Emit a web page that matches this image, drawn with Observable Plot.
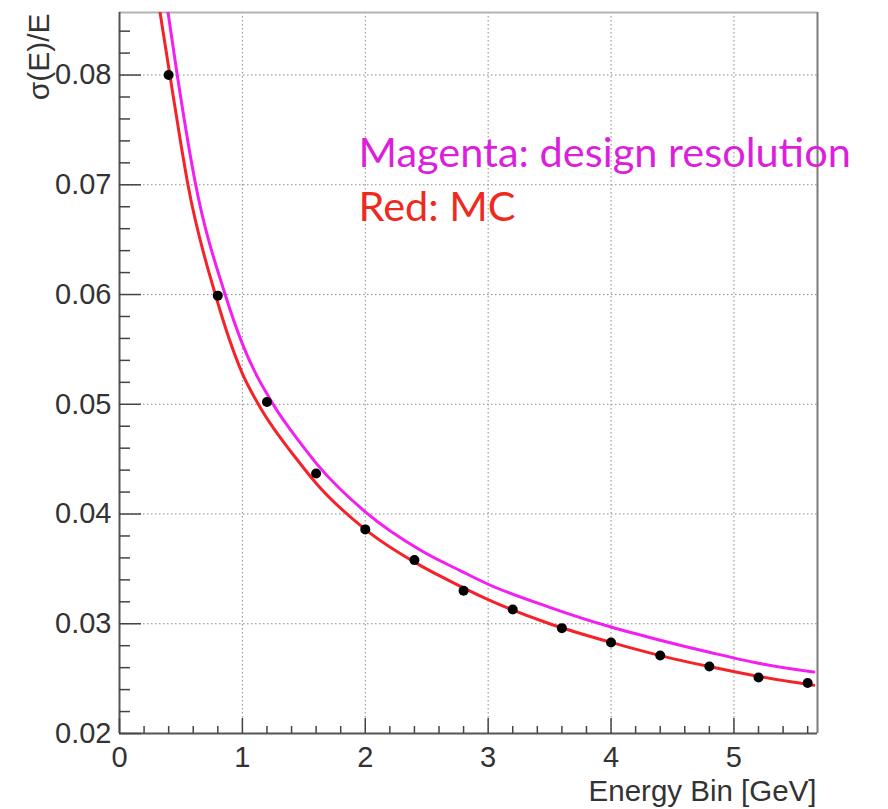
<!DOCTYPE html>
<html>
<head>
<meta charset="utf-8">
<script src="https://cdn.jsdelivr.net/npm/d3@7"></script>
<script src="https://cdn.jsdelivr.net/npm/@observablehq/plot@0.6"></script>
<style>
  html, body { margin: 0; padding: 0; background: #fff; }
  svg { overflow: visible; }
</style>
</head>
<body>
<div id="chart"></div>
<script>
// ---- data ----
const energyBins = [0.4, 0.8, 1.2, 1.6, 2.0, 2.4, 2.8, 3.2, 3.6, 4.0, 4.4, 4.8, 5.2, 5.6];
const measuredRes = [0.0800, 0.0599, 0.0502, 0.0437, 0.0386, 0.0358, 0.0330, 0.0313, 0.0296, 0.0283, 0.0271, 0.0261, 0.0251, 0.0246];

const mcCurveE   = [0.33, 0.41, 0.50, 0.557, 0.78, 1.00, 1.13, 1.47, 1.60, 2.00, 2.45, 2.67, 3.00, 3.50, 4.00, 4.40, 4.80, 5.20, 5.65];
const mcCurveRes = [0.0857, 0.0800, 0.0737, 0.0700, 0.0600, 0.0528, 0.0500, 0.0446, 0.0428, 0.0386, 0.0353, 0.0340, 0.0322, 0.0300, 0.0283, 0.0271, 0.0261, 0.0252, 0.0244];

const designCurveE   = [0.395, 0.47, 0.62, 0.86, 1.00, 1.25, 1.47, 1.61, 2.00, 2.45, 2.78, 3.00, 3.50, 4.00, 4.40, 4.80, 5.20, 5.65];
const designCurveRes = [0.0857, 0.0800, 0.0700, 0.0600, 0.0555, 0.0500, 0.0465, 0.0445, 0.0402, 0.0367, 0.0348, 0.0336, 0.0315, 0.0297, 0.0285, 0.0274, 0.0264, 0.0256];

const xMajorTicks = [0, 1, 2, 3, 4, 5];
const xMinorTicks = [0.2, 0.4, 0.6, 0.8, 1.2, 1.4, 1.6, 1.8, 2.2, 2.4, 2.6, 2.8, 3.2, 3.4, 3.6, 3.8, 4.2, 4.4, 4.6, 4.8, 5.2, 5.4, 5.6];
const yMajorTicks = [0.02, 0.03, 0.04, 0.05, 0.06, 0.07, 0.08];
const yMinorTicks = [0.022, 0.024, 0.026, 0.028, 0.032, 0.034, 0.036, 0.038, 0.042, 0.044, 0.046, 0.048,
                     0.052, 0.054, 0.056, 0.058, 0.062, 0.064, 0.066, 0.068, 0.072, 0.074, 0.076, 0.078, 0.082, 0.084];

const xLabel = "Energy Bin [GeV]";
const yLabel = "σ(E)/E";
const legendTexts = ["Magenta: design resolution", "Red: MC"];

// ---- build tables ----
const points = energyBins.map((e, i) => ({e, r: measuredRes[i]}));
const mcCurve = mcCurveE.map((e, i) => ({e, r: mcCurveRes[i]}));
const designCurve = designCurveE.map((e, i) => ({e, r: designCurveRes[i]}));

const xMax = 5.68, yMin = 0.02, yMax = 0.0857;
const annotations = [
  {text: legendTexts[0], e: 1.945, r: 0.0716, color: "#dc1fdc"},
  {text: legendTexts[1], e: 1.945, r: 0.0667, color: "#ee2a1e"}
];

const gridStyle = {stroke: "#8a8a8a", strokeOpacity: 1, strokeDasharray: "1.5,2.5", strokeWidth: 1};

const chart = Plot.plot({
  width: 888,
  height: 809,
  marginLeft: 119,
  marginRight: 71,
  marginTop: 12,
  marginBottom: 76,
  x: {domain: [0, xMax]},
  y: {domain: [yMin, yMax]},
  style: {fontFamily: "'Liberation Sans', Arial, Helvetica, sans-serif", fontSize: "29px", color: "#333", background: "#fff"},
  marks: [
    Plot.gridX(xMajorTicks, gridStyle),
    Plot.gridY(yMajorTicks, gridStyle),
    // frame
    Plot.ruleY([yMax], {stroke: "#b4b4b4", strokeWidth: 2}),
    Plot.ruleX([xMax], {stroke: "#7a7a7a", strokeWidth: 2}),
    Plot.ruleX([0], {stroke: "#555", strokeWidth: 2}),
    Plot.ruleY([yMin], {stroke: "#555", strokeWidth: 2}),
    // axes (inward ticks, ROOT style)
    Plot.axisX(xMajorTicks, {tickSize: -15, tickPadding: 28, tickFormat: d => String(d), label: null, stroke: "#444", strokeWidth: 1.5}),
    Plot.axisX(xMinorTicks, {tickSize: -7, tickPadding: 0, tickFormat: () => "", label: null, stroke: "#444", strokeWidth: 1.5}),
    Plot.axisY(yMajorTicks, {tickSize: -22, tickPadding: 30, tickFormat: d3.format(".2f"), label: null, stroke: "#444", strokeWidth: 1.5}),
    Plot.axisY(yMinorTicks, {tickSize: -11, tickPadding: 0, tickFormat: () => "", label: null, stroke: "#444", strokeWidth: 1.5}),
    // curves
    Plot.line(designCurve, {x: "e", y: "r", stroke: "#f21ef2", strokeWidth: 3, curve: "monotone-x", clip: true}),
    Plot.line(mcCurve, {x: "e", y: "r", stroke: "#f5222a", strokeWidth: 3, curve: "monotone-x", clip: true}),
    // measured points
    Plot.dot(points, {x: "e", y: "r", r: 5, fill: "#000", stroke: "none"}),
    // annotations
    Plot.text(annotations, {x: "e", y: "r", text: "text", fill: "color", textAnchor: "start", lineAnchor: "bottom",
      fontFamily: "Lato, 'Open Sans', sans-serif", fontSize: 41.5}),
    // axis titles
    Plot.text([xLabel], {frameAnchor: "bottom-right", textAnchor: "end", lineAnchor: "bottom", dx: -1, dy: 67, fontSize: 29.5, fill: "#333"}),
    Plot.text([yLabel], {frameAnchor: "top-left", textAnchor: "end", lineAnchor: "bottom", rotate: -90, dx: -71, dy: 1, fontSize: 30, fill: "#333"})
  ]
});
document.getElementById("chart").appendChild(chart);
</script>
</body>
</html>
